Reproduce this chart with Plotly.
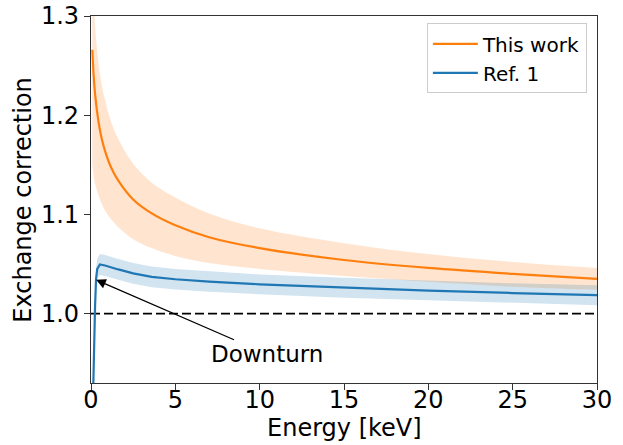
import plotly.graph_objects as go

# ---- data ----
energy_this = [0.08, 0.15, 0.25, 0.43, 0.6, 0.83, 1.2, 1.62, 2.5, 3.6, 5, 7, 10, 15, 20, 25, 30]
this_work = [1.266, 1.242, 1.220, 1.195, 1.179, 1.164, 1.147, 1.134, 1.115, 1.101, 1.089, 1.077, 1.066, 1.054, 1.046, 1.040, 1.035]
this_work_hi = [1.348, 1.317, 1.288, 1.255, 1.234, 1.215, 1.193, 1.176, 1.151, 1.132, 1.117, 1.101, 1.086, 1.071, 1.060, 1.052, 1.046]
this_work_lo = [1.150, 1.140, 1.130, 1.120, 1.112, 1.104, 1.095, 1.087, 1.075, 1.066, 1.058, 1.051, 1.045, 1.038, 1.032, 1.027, 1.024]

energy_ref = [0.10, 0.14, 0.24, 0.30, 0.37, 0.53, 0.83, 1.2, 1.62, 2.5, 3.6, 5, 7, 10, 15, 20, 25, 30]
ref1 = [0.75, 0.93, 1.007, 1.035, 1.045, 1.0495, 1.0485, 1.0465, 1.0445, 1.0405, 1.037, 1.0346, 1.0322, 1.0295, 1.0261, 1.0232, 1.0207, 1.0185]
ref1_hi = [0.76, 0.94, 1.017, 1.045, 1.055, 1.060, 1.059, 1.057, 1.055, 1.051, 1.0475, 1.045, 1.0425, 1.0395, 1.036, 1.033, 1.0305, 1.0285]
ref1_lo = [0.74, 0.92, 0.997, 1.025, 1.035, 1.039, 1.038, 1.036, 1.034, 1.030, 1.0265, 1.0242, 1.022, 1.0195, 1.016, 1.0134, 1.011, 1.0085]

x_ticks = [0, 5, 10, 15, 20, 25, 30]
y_ticks = [1.0, 1.1, 1.2, 1.3]
x_range = [0, 30]
y_range = [0.930, 1.3]

ORANGE = "#ff7f0e"
BLUE = "#1f77b4"
FONT = "DejaVu Sans"

fig = go.Figure()

# bands
fig.add_trace(go.Scatter(x=energy_this, y=this_work_lo, mode="lines", line=dict(width=0, shape="spline"),
                         showlegend=False, hoverinfo="skip"))
fig.add_trace(go.Scatter(x=energy_this, y=this_work_hi, mode="lines", line=dict(width=0, shape="spline"),
                         fill="tonexty", fillcolor="rgba(255,127,14,0.2)",
                         showlegend=False, hoverinfo="skip"))
fig.add_trace(go.Scatter(x=energy_ref, y=ref1_lo, mode="lines", line=dict(width=0),
                         showlegend=False, hoverinfo="skip"))
fig.add_trace(go.Scatter(x=energy_ref, y=ref1_hi, mode="lines", line=dict(width=0),
                         fill="tonexty", fillcolor="rgba(31,119,180,0.2)",
                         showlegend=False, hoverinfo="skip"))

# dashed unity line
fig.add_trace(go.Scatter(x=x_range, y=[1.0, 1.0], mode="lines",
                         line=dict(color="black", width=1.8, dash="9px,4px"),
                         showlegend=False, hoverinfo="skip"))

# curves
fig.add_trace(go.Scatter(x=energy_this, y=this_work, mode="lines", name="This work",
                         line=dict(color=ORANGE, width=2.2, shape="spline")))
fig.add_trace(go.Scatter(x=energy_ref, y=ref1, mode="lines", name="Ref. 1",
                         line=dict(color=BLUE, width=2.2)))

fig.add_annotation(x=0.3, y=1.034, ax=10.46, ay=0.959, xref="x", yref="y",
                   axref="x", ayref="y", text="Downturn", showarrow=True,
                   arrowhead=2, arrowsize=1.5, arrowwidth=1.3, arrowcolor="black",
                   font=dict(family=FONT, size=23, color="black"))

# axis titles as annotations (fixed positions)
fig.add_annotation(x=0.5, y=-0.122, xref="paper", yref="paper", text="Energy [keV]",
                   showarrow=False, xanchor="center", yanchor="middle",
                   font=dict(family=FONT, size=24, color="black"))
fig.add_annotation(x=-0.136, y=0.5, xref="paper", yref="paper", text="Exchange correction",
                   showarrow=False, xanchor="center", yanchor="middle", textangle=-90,
                   font=dict(family=FONT, size=24, color="black"))

axis_common = dict(showline=True, linecolor="#333333", linewidth=1.2, mirror=True,
                   ticks="outside", ticklen=6, tickwidth=1.2, tickcolor="#333333",
                   showgrid=False, zeroline=False, automargin=False,
                   tickfont=dict(family=FONT, size=24, color="black"))

fig.update_xaxes(range=x_range, tickvals=x_ticks, ticktext=[str(v) for v in x_ticks],
                 ticklabelstandoff=-11, **axis_common)
fig.update_yaxes(range=y_range, tickvals=y_ticks, ticktext=["%.1f" % v for v in y_ticks],
                 **axis_common)

fig.update_layout(
    width=623, height=445,
    margin=dict(l=91, r=26, t=16, b=62),
    plot_bgcolor="white", paper_bgcolor="white",
    font=dict(family=FONT, color="black"),
    legend=dict(x=0.98, y=0.98, xanchor="right", yanchor="top", traceorder="normal",
                bgcolor="rgba(255,255,255,0.9)", bordercolor="#cccccc", borderwidth=1,
                font=dict(family=FONT, size=20, color="black"),
                itemwidth=45, tracegroupgap=0),
)

fig.write_html("out.html")
